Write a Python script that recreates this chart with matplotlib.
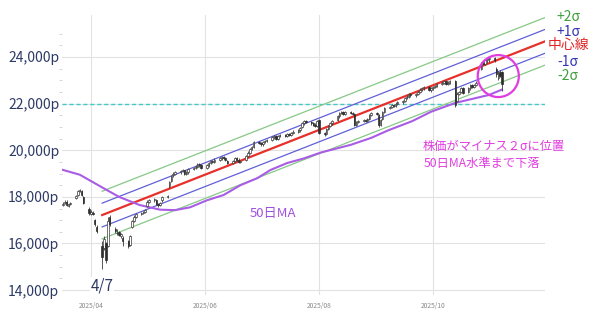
import matplotlib
matplotlib.use("Agg")
import matplotlib.pyplot as plt
import matplotlib.dates as mdates
from matplotlib.patches import Ellipse
import numpy as np
import pandas as pd

plt.rcParams['font.family'] = ['Noto Sans CJK JP', 'DejaVu Sans']

# daily candles, business days 2025-03-17 .. 2025-11-07
dates = pd.bdate_range("2025-03-17", "2025-11-07")

opens = [
    17650, 17750, 17800, 17600, 17700, 17950, 18100, 18250, 18250, 18000, 17500,
    17250, 17300, 17000, 16700, 15900, 15800, 16000, 15900, 17150, 16600, 16450,
    16500, 16300, 16250, 16100, 15950, 16700, 16950, 17150, 17250, 17300, 17350,
    17600, 17800, 17850, 17850, 17700, 17650, 17850, 18000, 18450, 18700, 18950,
    19000, 19050, 19100, 19150, 19000, 19050, 19200, 19250, 19300, 19400, 19350,
    19250, 19350, 19450, 19550, 19500, 19600, 19650, 19700, 19650, 19550, 19450,
    19550, 19650, 19600, 19500, 19600, 19750, 19900, 20050, 20150, 20350,
    20300, 20250, 20350, 20400, 20450, 20550, 20600, 20500, 20600, 20650, 20600,
    20700, 20650, 20750, 20800, 20850, 21000, 21150, 21250, 21200, 21150, 21100,
    21050,
    21300, 20750, 20700, 20900, 21050, 21150, 21300, 21450, 21600, 21650, 21550,
    21650, 21600, 21550, 21100, 21200, 21250, 21300, 21250, 21350, 21500,
    21600, 21500, 21100, 21350, 21650, 21800, 21850, 21950, 21900, 22000, 22050,
    22100, 22250, 22300, 22400, 22350, 22400, 22500, 22600, 22650, 22700, 22600,
    22650, 22700, 22750, 22850, 22900, 22950, 22850, 22900, 22950, 22100, 22400,
    22500, 22650, 22500, 22650, 22800, 22700, 22800, 23500, 23750, 23700, 23850,
    23900,
    23950, 23500, 23100, 23350, 23350,
]
highs = [
    17800, 17850, 17850, 17750, 17800, 18100, 18300, 18350, 18300, 18050, 17550,
    17450, 17400, 17050, 16800, 16100, 16300, 16050, 17150, 17200, 16700, 16600,
    16550, 16450, 16300, 16150, 16350, 17000, 17200, 17300, 17350, 17400, 17500,
    17850, 17900, 17950, 17900, 17750, 17800, 18050, 18100, 18700, 18950, 19050,
    19100, 19150, 19200, 19150, 19100, 19250, 19300, 19350, 19450, 19450, 19400,
    19400, 19500, 19600, 19600, 19650, 19700, 19750, 19750, 19700, 19600, 19600,
    19700, 19700, 19650, 19600, 19800, 19950, 20100, 20200, 20400, 20400,
    20350, 20400, 20450, 20500, 20600, 20650, 20650, 20650, 20700, 20700, 20750,
    20750, 20800, 20850, 20900, 21000, 21200, 21300, 21300, 21250, 21200, 21150,
    21300,
    21350, 20800, 20950, 21100, 21200, 21300, 21500, 21650, 21700, 21700, 21700,
    21700, 21650, 21600, 21250, 21300, 21350, 21350, 21400, 21550, 21650,
    21650, 21550, 21350, 21700, 21850, 21900, 22000, 22000, 22050, 22100,
    22150, 22300, 22350, 22450, 22450, 22450, 22550, 22650, 22700, 22750, 22750,
    22700, 22750, 22800, 22900, 22950, 23000, 22950, 22950, 23000, 23000, 22500,
    22550, 22700, 22700, 22700, 22850, 22850, 22850, 22950, 23800, 23850, 23900,
    23950,
    24000, 24000, 23550, 23400, 23450, 23400,
]
lows = [
    17600, 17700, 17600, 17550, 17650, 17900, 18050, 18200, 18050, 17700, 17200,
    17200, 17200, 16750, 16450, 14900, 15700, 15150, 15850, 16750, 16450, 16350,
    16300, 16250, 15900, 15800, 15900, 16650, 16900, 17100, 17200, 17250, 17300,
    17550, 17750, 17800, 17650, 17550, 17600, 17800, 17950, 18400, 18650, 18850,
    18950, 19000, 19050, 18950, 18950, 19000, 19150, 19200, 19250, 19300, 19200,
    19200, 19300, 19400, 19450, 19450, 19550, 19600, 19600, 19550, 19400, 19400,
    19500, 19550, 19450, 19450, 19550, 19700, 19850, 20000, 20100, 20250,
    20200, 20200, 20300, 20350, 20400, 20500, 20450, 20450, 20550, 20550, 20550,
    20600, 20600, 20700, 20750, 20800, 20950, 21100, 21150, 21100, 21050, 21000,
    21000,
    20700, 20600, 20650, 20850, 21000, 21100, 21250, 21400, 21550, 21500, 21500,
    21550, 21500, 21050, 21050, 21150, 21200, 21200, 21200, 21300, 21450,
    21500, 21000, 21050, 21300, 21600, 21750, 21800, 21850, 21850, 21950,
    22000, 22050, 22200, 22250, 22300, 22300, 22350, 22450, 22550, 22600, 22550,
    22500, 22600, 22650, 22700, 22800, 22850, 22800, 22800, 22850, 21850, 22050,
    22350, 22450, 22400, 22450, 22600, 22650, 22650, 22750, 23450, 23650, 23650,
    23750,
    23800, 23800, 23150, 23000, 23150, 22550,
]
closes = [
    17700, 17800, 17650, 17700, 17750, 18050, 18250, 18300, 18100, 17750, 17300,
    17350, 17250, 16850, 16550, 15400, 16200, 15300, 16950, 16850, 16550, 16450,
    16350, 16400, 16100, 15900, 16300, 16950, 17150, 17250, 17300, 17350, 17450,
    17800, 17850, 17900, 17700, 17650, 17750, 18000, 18050, 18650, 18900, 19000,
    19050, 19100, 19150, 19000, 19050, 19200, 19250, 19300, 19400, 19350, 19250,
    19350, 19450, 19550, 19500, 19600, 19650, 19700, 19650, 19600, 19450, 19550,
    19650, 19600, 19500, 19550, 19750, 19900, 20050, 20150, 20350, 20300,
    20250, 20350, 20400, 20450, 20550, 20600, 20500, 20600, 20650, 20600, 20700,
    20650, 20750, 20800, 20850, 20950, 21150, 21250, 21200, 21150, 21100, 21050,
    21250,
    20750, 20700, 20900, 21050, 21150, 21250, 21450, 21600, 21650, 21550, 21650,
    21600, 21550, 21100, 21200, 21250, 21300, 21250, 21350, 21500, 21600,
    21550, 21100, 21300, 21650, 21800, 21850, 21950, 21900, 22000, 22050,
    22100, 22250, 22300, 22400, 22350, 22400, 22500, 22600, 22650, 22700, 22600,
    22650, 22700, 22750, 22850, 22900, 22950, 22850, 22900, 22950, 21950, 22400,
    22500, 22650, 22450, 22650, 22800, 22700, 22800, 22900, 23750, 23700, 23850,
    23900,
    23950, 23850, 23250, 23300, 23200, 22850,
]

# 50-day moving average
ma_dates = ["2025-03-15", "2025-03-26", "2025-04-06", "2025-04-16", "2025-04-27",
            "2025-05-08", "2025-05-16", "2025-05-24", "2025-06-02", "2025-06-11",
            "2025-06-20", "2025-06-29", "2025-07-06", "2025-07-15", "2025-07-24",
            "2025-08-02", "2025-08-18", "2025-08-29", "2025-09-07", "2025-09-20",
            "2025-09-30", "2025-10-13", "2025-10-31", "2025-11-07"]
ma_values = [19200, 18950, 18450, 18000, 17650, 17450, 17430, 17550, 17850, 18080,
             18500, 18800, 19150, 19450, 19650, 19900, 20230, 20530, 20850, 21250,
             21650, 22030, 22370, 22600]

# regression channel (centre line ends) and sigma
channel_dates = ["2025-04-07", "2025-11-30"]
channel_center = [17220, 24670]
channel_sigma = 510

band_offsets = [2, 1, 0, -1, -2]
band_names = ["+2σ", "+1σ", "中心線", "-1σ", "-2σ"]
band_colors = ["#86c886", "#6060d8", "#e8302a", "#6060d8", "#86c886"]
label_colors = ["#3f9f3f", "#3535b5", "#e02424", "#3535b5", "#3f9f3f"]

level_line = 22000
yticks = [14000, 16000, 18000, 20000, 22000, 24000]
month_ticks = ["2025-04-01", "2025-06-01", "2025-08-01", "2025-10-01"]

W, H = 600, 313
fig = plt.figure(figsize=(W / 100, H / 100), dpi=100)
ax = fig.add_axes([62 / W, 18 / H, 483 / W, 280 / H])

x = mdates.date2num(dates.to_pydatetime())
o = np.array(opens); h = np.array(highs); l = np.array(lows); c = np.array(closes)
up = c >= o
ax.vlines(x, l, h, color="#3a3a3a", lw=0.6, zorder=4)
ax.bar(x[up], (c - o)[up], bottom=o[up], width=0.8, color="white",
       edgecolor="#3a3a3a", lw=0.5, zorder=5)
ax.bar(x[~up], (o - c)[~up], bottom=c[~up], width=0.8, color="#2e2e2e",
       edgecolor="#2e2e2e", lw=0.5, zorder=5)

# channel
cx = mdates.date2num(pd.to_datetime(channel_dates).to_pydatetime())
for k, col in zip(band_offsets, band_colors):
    ys = np.array(channel_center) + k * channel_sigma
    ax.plot(cx, ys, color=col, lw=1.6 if k == 0 else 0.9, zorder=3)

# moving average
mx = mdates.date2num(pd.to_datetime(ma_dates).to_pydatetime())
ax.plot(mx, ma_values, color="#a95ce6", lw=1.5, zorder=3)

ax.axhline(level_line, color="#45c8c8", lw=1, ls=(0, (3, 2)), zorder=2)

# circle around recent drop
ell = Ellipse((mdates.date2num(pd.Timestamp("2025-11-05")), 23180), 22, 1800,
              fill=False, edgecolor="#e03ce0", lw=1.6, zorder=6)
ax.add_patch(ell)

ax.set_xlim(mdates.date2num(pd.Timestamp("2025-03-16 12:00")),
            mdates.date2num(pd.Timestamp("2025-11-30")))
ax.set_ylim(13790, 25800)

ax.set_yticks(yticks)
ax.set_yticklabels([f"{v:,}p" for v in yticks], color="#2e3a66", fontsize=10)
ax.set_yticks(np.arange(14000, 25001, 500), minor=True)
ax.tick_params(axis="y", which="major", length=0, pad=2)
ax.tick_params(axis="y", which="minor", length=2, color="#d0d0d0")

ax.set_xticks(mdates.date2num(pd.to_datetime(month_ticks).to_pydatetime()))
ax.set_xticklabels([d[:7].replace("-", "/") for d in month_ticks],
                   color="#8a8a8a", fontsize=4.8)
ax.tick_params(axis="x", length=0, pad=5)

ax.grid(True, which="major", color="#e2e2e2", lw=0.8, zorder=0)
ax.set_axisbelow(True)
for s in ax.spines.values():
    s.set_visible(False)

ax.text(mdates.date2num(pd.Timestamp("2025-04-07")), 14180, "4/7",
        color="#2e3a66", fontsize=11, ha="center", va="center", zorder=7,
        bbox=dict(facecolor="white", edgecolor="none", pad=0.5))


def ftext(px, py, s, **kw):
    fig.text(px / W, 1 - py / H, s, **kw)


label_y = [17, 32, 45, 62, 76]
for name, col, py in zip(band_names, label_colors, label_y):
    ftext(568, py, name, color=col, fontsize=10, ha="center", va="center")

ftext(423, 146, "株価がマイナス２σに位置", color="#e03ce0", fontsize=8.8, va="center")
ftext(424, 164, "50日MA水準まで下落", color="#e03ce0", fontsize=8.8, va="center")
ftext(273, 213, "50日MA", color="#a050e0", fontsize=9.5, ha="center", va="center")

fig.savefig("out.png", dpi=100)
